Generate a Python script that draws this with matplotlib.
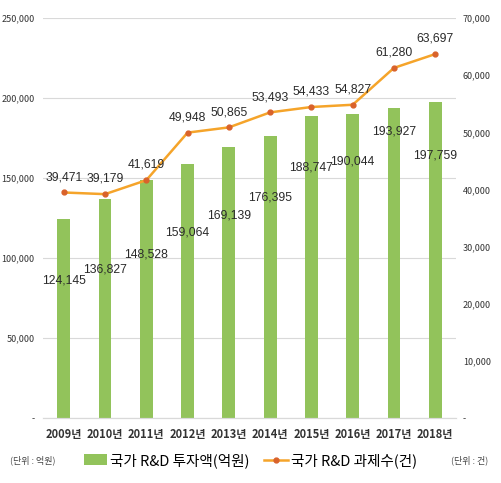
import numpy as np
import matplotlib.pyplot as plt
from matplotlib.ticker import FuncFormatter

plt.rcParams['font.family'] = ['Noto Sans CJK KR', 'DejaVu Sans']

# 데이터
years = ['2009년', '2010년', '2011년', '2012년', '2013년', '2014년', '2015년', '2016년', '2017년', '2018년']
invest = [124145, 136827, 148528, 159064, 169139, 176395, 188747, 190044, 193927, 197759]
tasks = [39471, 39179, 41619, 49948, 50865, 53493, 54433, 54827, 61280, 63697]
# 막대 라벨 세로 위치 (막대 높이 대비 비율)
label_frac = [0.69, 0.68, 0.69, 0.73, 0.75, 0.78, 0.83, 0.845, 0.925, 0.83]

fig = plt.figure(figsize=(5.01, 4.83), dpi=100)
ax = fig.add_axes([0.086, 0.1346, 0.824, 0.828])
ax2 = ax.twinx()

x = np.arange(len(years))
ax.bar(x, invest, width=0.31, color='#92c35b', zorder=2, label='국가 R&D 투자액(억원)')
for i, v in enumerate(invest):
    ax.text(x[i], v * label_frac[i], '{:,}'.format(v), ha='center', va='center',
            fontsize=8.7, color='#2a2a2a', zorder=5, family='Liberation Sans')

ax2.plot(x, tasks, color='#f5a42a', linewidth=1.8, marker='o', markersize=3.5,
         markerfacecolor='#d9622b', markeredgecolor='#d9622b', zorder=3,
         label='국가 R&D 과제수(건)')
for i, v in enumerate(tasks):
    ax2.annotate('{:,}'.format(v), (x[i], v), xytext=(0, 11), textcoords='offset points',
                 ha='center', va='center', fontsize=8.7, color='#2a2a2a',
                 family='Liberation Sans')

fmt = lambda v, p: '-' if v == 0 else '{:,}'.format(int(v))
ax.set_ylim(0, 250000)
ax.set_yticks(np.arange(0, 250001, 50000))
ax.yaxis.set_major_formatter(FuncFormatter(fmt))
ax2.set_ylim(0, 70000)
ax2.set_yticks(np.arange(0, 70001, 10000))
ax2.yaxis.set_major_formatter(FuncFormatter(fmt))
ax.set_xlim(-0.5, 9.5)
ax.set_xticks(x)
ax.set_xticklabels(years, fontsize=8, fontweight='bold', color='#222222')

ax.grid(axis='y', color='#d9d9d9', linewidth=0.8, zorder=0)
ax.set_axisbelow(True)
for a in (ax, ax2):
    for s in ['top', 'left', 'right']:
        a.spines[s].set_visible(False)
    a.spines['bottom'].set_color('#d9d9d9')
    a.tick_params(length=0, labelsize=6.5, colors='#333333')
ax.tick_params(axis='x', pad=7, labelsize=8)
ax.tick_params(axis='y', pad=6)
ax2.tick_params(axis='y', pad=5)

h1, l1 = ax.get_legend_handles_labels()
h2, l2 = ax2.get_legend_handles_labels()
fig.legend(h1 + h2, l1 + l2, loc='center', bbox_to_anchor=(0.5, 0.047), ncol=2,
           frameon=False, fontsize=10.5, handlelength=1.6, columnspacing=1.0,
           handletextpad=0.2)
fig.text(0.02, 0.047, '(단위 : 억원)', fontsize=6.5, color='#444444', va='center')
fig.text(0.975, 0.047, '(단위 : 건)', fontsize=6.5, color='#444444', va='center', ha='right')

fig.savefig('out.png', dpi=100)
